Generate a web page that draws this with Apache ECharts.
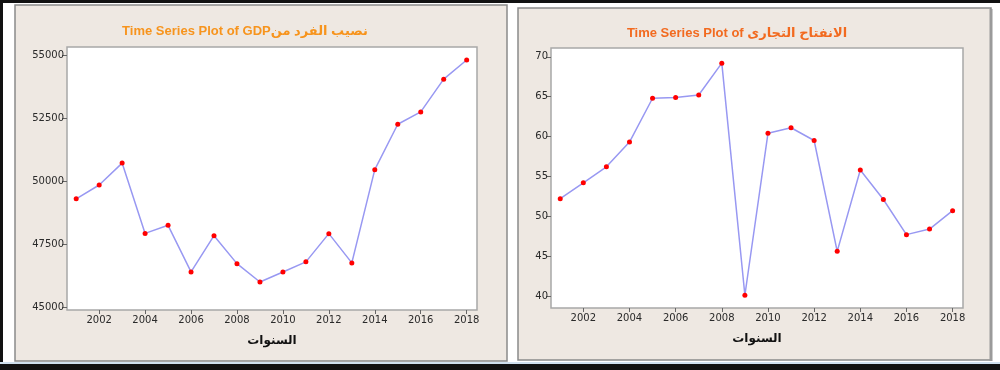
<!DOCTYPE html>
<html>
<head>
<meta charset="utf-8">
<script src="https://cdn.jsdelivr.net/npm/echarts@6/dist/echarts.min.js"></script>
<style>
html,body{margin:0;padding:0;background:#ffffff;}
#c{width:1000px;height:370px;}
</style>
</head>
<body>
<div id="c"></div>
<script>
const years = [2001,2002,2003,2004,2005,2006,2007,2008,2009,2010,2011,2012,2013,2014,2015,2016,2017,2018];
const gdpPerCapita = [49290,49840,50710,47920,48240,46390,47830,46720,45990,46390,46790,47910,46750,50450,52250,52740,54040,54800];
const tradeOpenness = [52.2,54.2,56.2,59.3,64.8,64.9,65.2,69.2,40.1,60.4,61.1,59.5,45.6,55.8,52.1,47.7,48.4,50.7];
const yearTicks = [2002,2004,2006,2008,2010,2012,2014,2016,2018];
const gdpTicks = [45000,47500,50000,52500,55000];
const tradeTicks = [40,45,50,55,60,65,70];
const titleLeft = 'Time Series Plot of GDPنصيب الفرد من';
const titleRight = 'Time Series Plot of الانفتاح التجارى';
const xName = 'السنوات';

const chart = echarts.init(document.getElementById('c'), null, {renderer:'canvas'});
const FONT = 'DejaVu Sans';
const beige = '#EEE8E2';
const plain = v => String(v);

function xAxis(gi){
  return {
    type:'value', gridIndex:gi, min:2000.6, max:2018.45,
    name:xName, nameLocation:'middle', nameGap:25,
    nameTextStyle:{color:'#111', fontWeight:'bold', fontSize:12, fontFamily:FONT},
    axisLine:{show:false},
    axisTick:{show:true, customValues:yearTicks, length:4, lineStyle:{color:'#666'}},
    axisLabel:{customValues:yearTicks, formatter:plain, color:'#2a2a2a', fontSize:10, fontFamily:FONT, margin:5},
    splitLine:{show:false}
  };
}
function yAxis(gi, min, max, ticks){
  return {
    type:'value', gridIndex:gi, min:min, max:max,
    axisLine:{show:false},
    axisTick:{show:true, customValues:ticks, length:5, lineStyle:{color:'#666'}},
    axisLabel:{customValues:ticks, formatter:plain, color:'#2a2a2a', fontSize:10, fontFamily:FONT, margin:3},
    splitLine:{show:false}
  };
}
function series(gi, vals){
  return {
    type:'line', xAxisIndex:gi, yAxisIndex:gi,
    data: years.map((y,i)=>[y, vals[i]]),
    symbol:'circle', symbolSize:5, showAllSymbol:true,
    lineStyle:{color:'#9898F2', width:1.5},
    itemStyle:{color:'#FF0000', borderWidth:0},
    emphasis:{disabled:true}, animation:false, z:3
  };
}

chart.setOption({
  animation:false,
  graphic:[
    {type:'rect', z:-10, shape:{x:0,y:0,width:1000,height:370}, style:{fill:'#ffffff'}},
    {type:'rect', z:-9, shape:{x:15,y:5,width:492,height:356}, style:{fill:beige, stroke:'#8a8a8a', lineWidth:1.5}},
    {type:'rect', z:-9, shape:{x:518,y:8,width:473,height:352}, style:{fill:beige, stroke:'#8a8a8a', lineWidth:1.5}},
    {type:'line', z:-8, shape:{x1:991,y1:9,x2:991,y2:361}, style:{stroke:'#9a9a9a', lineWidth:3}},
    {type:'line', z:-8, shape:{x1:0,y1:1.5,x2:1000,y2:1.5}, style:{stroke:'#111', lineWidth:3}},
    {type:'line', z:-8, shape:{x1:1.5,y1:0,x2:1.5,y2:370}, style:{stroke:'#111', lineWidth:3}},
    {type:'line', z:-8, shape:{x1:0,y1:367,x2:1000,y2:367}, style:{stroke:'#111', lineWidth:6}},
    {type:'line', z:-8, shape:{x1:0,y1:363,x2:1000,y2:363}, style:{stroke:'#cfe0ee', lineWidth:2}},
    {type:'text', z:5, x:245, y:31, style:{text:titleLeft, fill:'#F7941D', font:'bold 13px "Liberation Sans", "DejaVu Sans"', align:'center', verticalAlign:'middle'}},
    {type:'text', z:5, x:737, y:33, style:{text:titleRight, fill:'#F26A1F', font:'bold 13px "Liberation Sans", "DejaVu Sans"', align:'center', verticalAlign:'middle'}}
  ],
  grid:[
    {left:67, top:47, width:410, height:263, show:true, backgroundColor:'#ffffff', borderColor:'#a8a8a8', borderWidth:1.5},
    {left:551, top:48, width:412, height:260, show:true, backgroundColor:'#ffffff', borderColor:'#a8a8a8', borderWidth:1.5}
  ],
  xAxis:[xAxis(0), xAxis(1)],
  yAxis:[yAxis(0, 44880, 55317, gdpTicks), yAxis(1, 38.5, 71.1, tradeTicks)],
  series:[series(0, gdpPerCapita), series(1, tradeOpenness)]
});
</script>
</body>
</html>
